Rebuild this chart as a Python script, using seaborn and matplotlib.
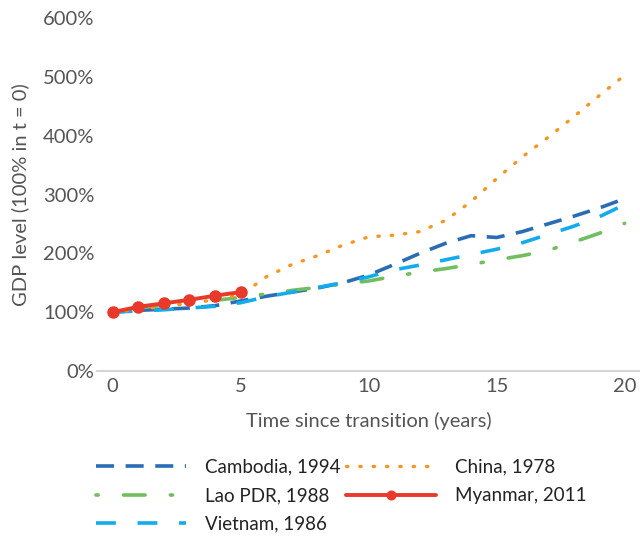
import matplotlib
matplotlib.use("Agg")
import matplotlib.pyplot as plt
from matplotlib import ticker
import seaborn as sns
import pandas as pd
import numpy as np

""" 0. Data """
years = list(range(21))
cambodia = [100, 103, 105, 107, 111, 119, 127, 134, 141, 150, 163, 181, 200, 217, 230, 227, 237, 250, 263, 277, 293]
lao = [100, 107, 112, 117, 120, 125, 131, 137, 142, 148, 153, 161, 168, 174, 181, 189, 196, 205, 219, 234, 251]
vietnam = [100, 102, 104, 107, 110, 116, 126, 134, 142, 150, 160, 172, 180, 189, 198, 207, 218, 232, 246, 262, 283]
china = [100, 104, 110, 115, 121, 129, 160, 181, 196, 214, 228, 231, 237, 256, 288, 327, 364, 397, 432, 468, 503]
myanmar_years = [0, 1, 2, 3, 4, 5]
myanmar = [100, 109, 115, 121, 128, 134]

x_ticks = [0, 5, 10, 15, 20]
y_ticks = [0, 100, 200, 300, 400, 500, 600]

""" 1. Plot """
sns.set_style("white")
plt.rcParams['font.family'] = ['Lato', 'DejaVu Sans']
text_col = "#555555"

fig = plt.figure(figsize=(6.4, 5.36), dpi=100)
ax = fig.add_axes([0.152, 0.308, 0.848, 0.658])

lw = 2.6
sns.lineplot(x=years, y=cambodia, ax=ax, color="#2a6db5", linewidth=lw,
             linestyle=(0, (5, 3.2)), label="Cambodia, 1994")
sns.lineplot(x=years, y=lao, ax=ax, color="#72bd5f", linewidth=lw,
             linestyle=(0, (0.6, 7, 6, 7)), dash_capstyle="round", label="Lao PDR, 1988")
sns.lineplot(x=years, y=vietnam, ax=ax, color="#12acec", linewidth=lw,
             linestyle=(0, (5.5, 6)), label="Vietnam, 1986")
sns.lineplot(x=years, y=china, ax=ax, color="#f7961f", linewidth=2.4,
             linestyle=(0, (0.4, 3.6)), dash_capstyle="round", label="China, 1978")
sns.lineplot(x=myanmar_years, y=myanmar, ax=ax, color="#e8392a", linewidth=2.8,
             marker="o", markersize=9, markeredgewidth=0, label="Myanmar, 2011")

ax.set_xlim(-0.6, 20.6)
ax.set_ylim(0, 600)
ax.set_xticks(x_ticks)
ax.set_yticks(y_ticks)
ax.yaxis.set_major_formatter(ticker.FuncFormatter(lambda v, p: f"{v:.0f}%"))
for s in ["top", "right", "left"]:
    ax.spines[s].set_visible(False)
ax.spines["bottom"].set_color("#cccccc")
ax.spines["bottom"].set_linewidth(1.2)
ax.tick_params(axis="both", length=0, labelsize=14.5, labelcolor=text_col)
ax.tick_params(axis="y", pad=2)
ax.tick_params(axis="x", pad=5)
ax.set_xlabel("Time since transition (years)", fontsize=14.5, color=text_col, labelpad=12)
ax.set_ylabel("GDP level (100% in t = 0)", fontsize=14.5, color=text_col, labelpad=10)
ax.grid(False)

handles, labels = ax.get_legend_handles_labels()
ax.legend_.remove()
fig.legend(handles, labels, ncol=2, loc="upper left", bbox_to_anchor=(0.124, 0.176),
           frameon=False, fontsize=13.5, handlelength=4.8, handletextpad=1.0,
           columnspacing=0.3, labelspacing=0.62, markerscale=0.8, labelcolor="#222222")

plt.savefig("out.png", dpi=100)
